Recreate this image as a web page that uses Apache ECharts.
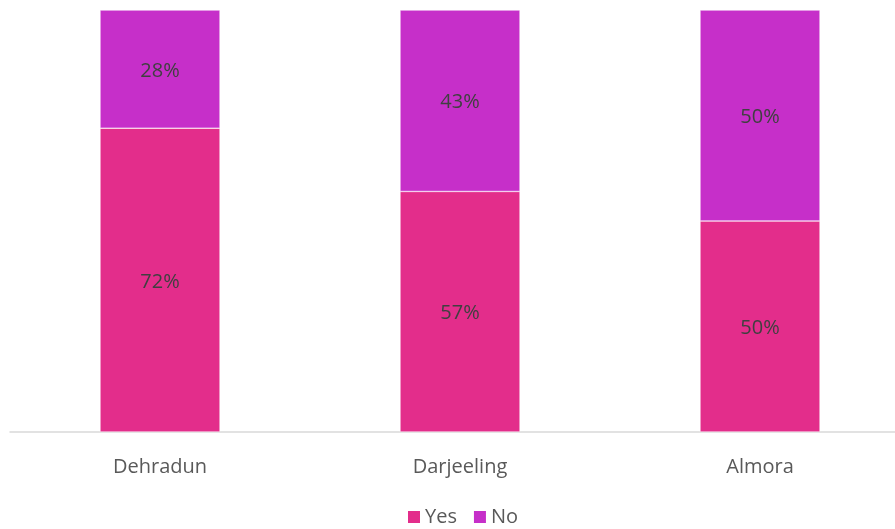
<!DOCTYPE html>
<html><head><meta charset="utf-8">
<script src="https://cdn.jsdelivr.net/npm/echarts@6/dist/echarts.min.js"></script>
<style>html,body{margin:0;padding:0;background:#fff}#c{width:895px;height:529px}</style>
</head><body><div id="c"></div>
<script>
const categories = ["Dehradun", "Darjeeling", "Almora"];
const yesValues = [72, 57, 50];
const noValues = [28, 43, 50];
const seriesNames = ["Yes", "No"];

const chart = echarts.init(document.getElementById('c'));
const font = "'Open Sans', 'Noto Sans', sans-serif";
const lbl = {show: true, position: 'inside', offset: [0, 2], formatter: p => p.value + '%', color: '#404040', fontSize: 20, fontFamily: font};
chart.setOption({
  animation: false,
  grid: {left: 10, top: 10, right: -15, bottom: 97, containLabel: false, outerBoundsMode: 'none'},
  legend: {
    data: seriesNames, bottom: -3, left: 401, itemWidth: 14, itemHeight: 14, itemGap: 15,
    icon: 'rect', textStyle: {color: '#595959', fontSize: 20, fontFamily: font, padding: [0, 0, 0, -1]}
  },
  xAxis: {
    type: 'category', data: categories,
    axisLine: {lineStyle: {color: '#D9D9D9', width: 1.5}}, axisTick: {show: false},
    axisLabel: {color: '#595959', fontSize: 20, fontFamily: font, margin: 25}
  },
  yAxis: {type: 'value', min: 0, max: 100, show: false, splitLine: {show: false}},
  series: [
    {name: seriesNames[0], type: 'bar', stack: 's', data: yesValues, barWidth: 120,
     itemStyle: {color: '#E32D8B', borderColor: '#fff', borderWidth: 0.5}, label: lbl},
    {name: seriesNames[1], type: 'bar', stack: 's', data: noValues, barWidth: 120,
     itemStyle: {color: '#C62FC9', borderColor: '#fff', borderWidth: 0.5}, label: lbl}
  ]
});
</script></body></html>
